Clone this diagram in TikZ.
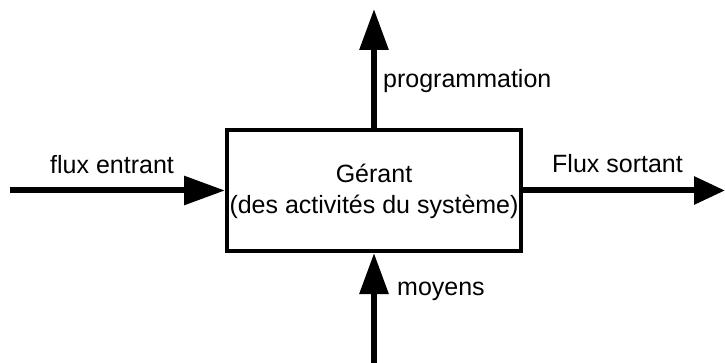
\documentclass[tikz,border=0pt]{standalone}
\usepackage{fontspec}
\setmainfont{Liberation Sans}
\usetikzlibrary{arrows.meta}
\begin{document}
\begin{tikzpicture}[x=1pt,y=-1pt,
  flow/.style={line width=6pt,-{Triangle[length=41pt,width=28pt]}},
  flowshort/.style={line width=6pt,-{Triangle[length=31pt,width=27pt]}},
  boxstyle/.style={draw,line width=4pt,minimum width=294pt,minimum height=121pt,inner sep=0pt},
  lbl/.style={inner sep=0pt,font=\fontsize{25}{30}\selectfont}]
\useasboundingbox (0,0) rectangle (725,363);
\node[boxstyle] (box) at (374,190.5) {};
\node[lbl,anchor=base] (g1) at (374,183) {Gérant};
\node[lbl,anchor=base] (g2) at (374,214) {(des activités du système)};
\coordinate (inL) at (10,190.5);
\coordinate (outR) at (725,190.5);
\coordinate (outT) at (374,9);
\coordinate (inB) at (374,363);
\draw[flow] (inL) -- (box.west);
\draw[flowshort] (box.east) -- (outR);
\draw[flow] (box.north) -- (outT);
\draw[flow] (inB) -- (box.south);
\node[lbl,anchor=base west] (l1) at (50,174) {flux entrant};
\node[lbl,anchor=base west] (l2) at (552,173) {Flux sortant};
\node[lbl,anchor=base west] (l3) at (383,88) {programmation};
\node[lbl,anchor=base west] (l4) at (397,295) {moyens};
\end{tikzpicture}
\end{document}
